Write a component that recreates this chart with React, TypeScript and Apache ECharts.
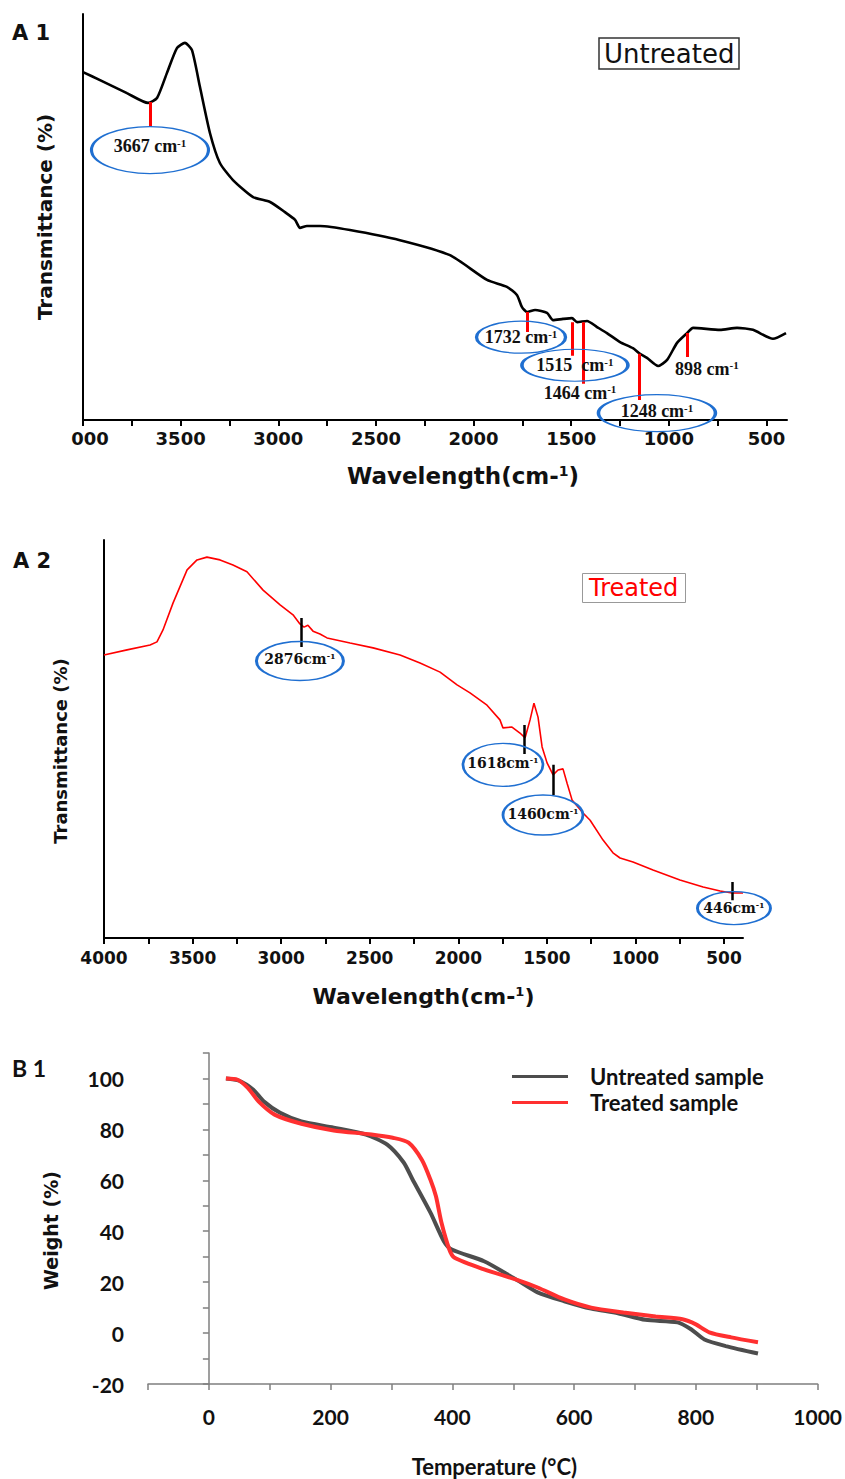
import React, { useEffect, useRef } from 'react';
import * as echarts from 'echarts';

// ---------- A1: untreated FTIR ----------
const a1Wavenumber = [4000, 3913, 3775, 3667, 3621, 3570, 3519, 3478, 3442, 3401, 3350, 3299, 3232, 3129, 3042, 2966, 2914, 2889, 2853, 2786, 2633, 2377, 2121, 1931, 1829, 1778, 1752, 1726, 1685, 1624, 1593, 1542, 1496, 1470, 1419, 1368, 1317, 1250, 1184, 1153, 1112, 1055, 1009, 958, 907, 876, 738, 651, 569, 467, 400];
const a1Transmittance = [85.7, 83.7, 80.5, 78.1, 79.3, 85.5, 91.6, 92.9, 91.1, 82.0, 70.7, 63.3, 59.1, 54.9, 53.7, 51.2, 49.3, 47.3, 47.8, 47.8, 46.8, 44.3, 40.6, 34.5, 32.8, 30.8, 27.8, 26.6, 27.1, 26.4, 24.6, 24.9, 25.1, 24.1, 24.4, 22.9, 21.4, 19.2, 17.7, 16.5, 15.3, 13.3, 14.8, 19.0, 21.4, 22.7, 22.2, 22.7, 22.2, 20.0, 21.4];
const a1MarkerX = [3657, 1726, 1496, 1440, 1153, 907];
const a1MarkerTop = [78.3, 26.6, 24.1, 24.1, 16.3, 21.4];
const a1MarkerBottom = [72.2, 21.7, 15.8, 8.9, 4.9, 15.5];
const a1BubbleText = ['3667 cm', '1732 cm', '1515  cm', '1248 cm'];
const a1BubbleX = [3657, 1757, 1481, 1061];
const a1BubbleY = [66.5, 20.4, 13.5, 1.7];
const a1NoteText = ['1464 cm', '898 cm'];
const a1NoteX = [1455, 805];
const a1NoteY = [6.7, 12.6];

// ---------- A2: treated FTIR ----------
const a2Wavenumber = [4000, 3870, 3740, 3701, 3667, 3610, 3531, 3475, 3419, 3345, 3272, 3193, 3102, 3006, 2933, 2894, 2871, 2849, 2820, 2781, 2741, 2611, 2481, 2329, 2216, 2103, 2007, 1934, 1838, 1765, 1748, 1697, 1652, 1623, 1595, 1573, 1550, 1527, 1499, 1465, 1437, 1409, 1386, 1358, 1296, 1256, 1183, 1127, 1087, 1014, 901, 749, 618, 522, 455, 393];
const a2Transmittance = [71.1, 72.4, 73.6, 74.4, 77.4, 84.2, 92.5, 95.0, 95.7, 95.0, 93.7, 92.0, 87.4, 83.7, 81.2, 78.9, 78.1, 78.6, 77.1, 76.4, 75.4, 74.1, 72.9, 71.1, 69.1, 66.8, 63.6, 61.6, 58.5, 54.8, 52.8, 53.0, 51.5, 50.3, 54.8, 59.0, 55.5, 48.0, 44.0, 41.0, 42.2, 42.5, 38.9, 34.7, 31.4, 29.6, 24.6, 21.4, 20.1, 19.1, 17.1, 14.6, 12.8, 11.8, 11.3, 11.3];
const a2MarkerX = [2888, 1629, 1465, 455];
const a2MarkerTop = [80.4, 53.5, 43.5, 14.1];
const a2MarkerBottom = [73.1, 46.2, 35.9, 9.5];
const a2BubbleText = ['2876cm', '1618cm', '1460cm', '446cm'];
const a2BubbleX = [2894, 1748, 1522, 444];
const a2BubbleY = [69.6, 43.5, 30.9, 7.5];

// ---------- B1: TGA ----------
const untreatedTemp = [28, 50, 73, 90, 117, 152, 205, 258, 293, 320, 334, 364, 386, 399, 452, 505, 540, 584, 628, 672, 717, 770, 792, 814, 849, 902];
const untreatedWeight = [100, 99.1, 95.6, 91, 86.5, 83.1, 80.7, 78, 74, 67, 60.6, 47.3, 36.1, 32.8, 28.2, 21, 16, 12.5, 9.6, 7.8, 5.2, 4.2, 1.5, -2.5, -5.1, -8];
const treatedTemp = [28, 47, 64, 81.5, 108, 152, 205, 267, 302, 328, 350, 364, 373, 382, 395, 403, 452, 505, 540, 584, 628, 681, 734, 778, 800, 822, 858, 902];
const treatedWeight = [100, 99.5, 96.3, 91, 85.8, 82.2, 79.6, 78, 76.7, 74.8, 68, 60.2, 53.7, 43.4, 32.8, 29.7, 25, 21, 17.9, 13.2, 10, 8.1, 6.5, 5.4, 3.4, 0.3, -1.7, -3.6];

// ticks / labels
const ftirLabelValues = [4000, 3500, 3000, 2500, 2000, 1500, 1000, 500];
const ftirTickValues = [4000, 3750, 3500, 3250, 3000, 2750, 2500, 2250, 2000, 1750, 1500, 1250, 1000, 750, 500];

// styles (kept separate from data)
const a1BubbleSize = [[117, 47], [89, 32], [106, 32], [117, 37]];
const a2BubbleSize = [[87, 39], [80, 43], [80, 40], [73, 33]];
const ELLIPSE = 'path://M0,50C0,22.4,22.4,0,50,0C77.6,0,100,22.4,100,50C100,77.6,77.6,100,50,100C22.4,100,0,77.6,0,50Z';
const BLUE = '#1f6fd1';

const zip = (a: number[], b: number[]) => a.map((v, i) => [v, b[i]]);

function buildOption(): any {
  const titleFont = 'DejaVu Sans';
  const a1Rich = {
    m: { fontFamily: 'Liberation Serif', fontWeight: 'bold', fontSize: 18, color: '#111' },
    s: { fontFamily: 'Liberation Serif', fontWeight: 'bold', fontSize: 11, color: '#111', verticalAlign: 'top' },
  };
  const a2Rich = {
    m: { fontFamily: 'DejaVu Serif', fontWeight: 'bold', fontSize: 14, color: '#111' },
    s: { fontFamily: 'DejaVu Serif', fontWeight: 'bold', fontSize: 8, color: '#111', verticalAlign: 'top' },
  };
  const nameRich = (size: number) => ({
    t: { fontFamily: titleFont, fontWeight: 'bold', fontSize: size, color: '#111' },
    s: { fontFamily: titleFont, fontWeight: 'bold', fontSize: Math.round(size * 0.6), color: '#111', verticalAlign: 'top' },
  });

  const ftirX = (grid: number, min: number, labelSize: number, margin: number, nameSize: number, nameGap: number, padLeft: number, clipped: boolean) => ({
    gridIndex: grid,
    type: 'value',
    inverse: true,
    min,
    max: 4000,
    axisLine: { show: true, onZero: false, lineStyle: { color: '#000', width: 2 } },
    axisTick: { show: true, length: 6, lineStyle: { color: '#000', width: 2 }, customValues: ftirTickValues },
    axisLabel: {
      customValues: ftirLabelValues,
      margin,
      fontFamily: titleFont,
      fontWeight: 'bold',
      fontSize: labelSize,
      color: '#111',
      formatter: (v: number) => (clipped && v === 4000 ? '{z|000}' : String(v)),
      rich: { z: { fontFamily: titleFont, fontWeight: 'bold', fontSize: labelSize, color: '#111', padding: [0, 0, 0, 14] } },
    },
    splitLine: { show: false },
    name: '{t|Wavelength(cm-}{s|1}{t|)}',
    nameLocation: 'middle',
    nameGap,
    nameTextStyle: { rich: nameRich(nameSize), padding: [0, 0, 0, padLeft] },
  });

  const ftirY = (grid: number, nameSize: number, nameGap: number, padRight: number) => ({
    gridIndex: grid,
    type: 'value',
    min: 0,
    max: 100,
    axisLine: { show: true, lineStyle: { color: '#000', width: 2 } },
    axisTick: { show: false },
    axisLabel: { show: false },
    splitLine: { show: false },
    name: 'Transmittance (%)',
    nameLocation: 'middle',
    nameRotate: 90,
    nameGap,
    nameTextStyle: { fontFamily: titleFont, fontWeight: 'bold', fontSize: nameSize, color: '#111', padding: [0, padRight, 0, 0] },
  });

  const markers = (x: number[], top: number[], bottom: number[], grid: number, color: string, width: number) => ({
    type: 'lines',
    coordinateSystem: 'cartesian2d',
    xAxisIndex: grid,
    yAxisIndex: grid,
    silent: true,
    z: 4,
    lineStyle: { color, width, opacity: 1 },
    data: x.map((v, i) => ({ coords: [[v, top[i]], [v, bottom[i]]] })),
  });

  const labelFor = (rich: any) => ({
    show: true,
    position: 'inside',
    color: '#111',
    textBorderWidth: 0,
    formatter: (p: any) => `{m|${p.name}}{s|-1}`,
    rich,
  });

  const bubbles = (texts: string[], x: number[], y: number[], sizes: number[][], grid: number, rich: any, offsetY: number[]) => ({
    type: 'scatter',
    xAxisIndex: grid,
    yAxisIndex: grid,
    silent: true,
    clip: false,
    z: 5,
    symbol: ELLIPSE,
    itemStyle: { color: 'rgba(0,0,0,0)', borderColor: BLUE, borderWidth: 2, opacity: 1 },
    data: texts.map((t, i) => ({
      name: t,
      value: [x[i], y[i]],
      symbolSize: sizes[i],
      label: { offset: [0, offsetY[i] || 0] },
    })),
    label: labelFor(rich),
  });

  const notes = (texts: string[], x: number[], y: number[], grid: number, rich: any) => ({
    type: 'scatter',
    xAxisIndex: grid,
    yAxisIndex: grid,
    silent: true,
    clip: false,
    z: 5,
    symbol: ELLIPSE,
    symbolSize: [60, 20],
    itemStyle: { color: 'rgba(0,0,0,0)', borderColor: 'rgba(0,0,0,0)', borderWidth: 0, opacity: 1 },
    data: texts.map((t, i) => ({ name: t, value: [x[i], y[i]] })),
    label: labelFor(rich),
  });

  const calibri = 'Lato';

  return {
    animation: false,
    backgroundColor: '#fff',
    title: [
      { text: 'A 1', left: 12, top: 22, padding: 0, textStyle: { fontFamily: titleFont, fontWeight: 'bold', fontSize: 21, color: '#111' } },
      { text: 'A 2', left: 13, top: 550, padding: 0, textStyle: { fontFamily: titleFont, fontWeight: 'bold', fontSize: 21, color: '#111' } },
      { text: 'B 1', left: 12, top: 1056, padding: 0, textStyle: { fontFamily: calibri, fontWeight: 'bold', fontSize: 23, color: '#111' } },
      {
        text: 'Untreated', left: 599, top: 38, padding: [1, 5, 1, 5], borderColor: '#333', borderWidth: 1.5,
        textStyle: { fontFamily: titleFont, fontWeight: 'normal', fontSize: 26, lineHeight: 29, color: '#111' },
      },
      {
        text: 'Treated', left: 582, top: 573, padding: [1, 7, 1, 7], borderColor: '#999', borderWidth: 1,
        textStyle: { fontFamily: titleFont, fontWeight: 'normal', fontSize: 24, lineHeight: 28, color: '#ff0000' },
      },
    ],
    legend: {
      data: ['Untreated sample', 'Treated sample'],
      orient: 'vertical',
      left: 512,
      top: 1065,
      itemWidth: 56,
      itemHeight: 3,
      itemGap: 3,
      icon: 'rect',
      padding: 0,
      selectedMode: false,
      textStyle: { fontFamily: calibri, fontWeight: 'bold', fontSize: 22, lineHeight: 23, color: '#111', padding: [0, 0, 0, 17] },
    },
    grid: [
      { left: 83, top: 14, width: 704, height: 406 },
      { left: 104, top: 540, width: 639, height: 398 },
      { left: 148, top: 1053, width: 678, height: 331 },
    ],
    xAxis: [
      ftirX(0, 395, 18, 9, 23, 44, 56, true),
      ftirX(1, 393, 17, 11, 22, 47, 0, false),
      {
        gridIndex: 2,
        type: 'value',
        min: -100,
        max: 1000,
        interval: 100,
        axisLine: { show: true, onZero: false, lineStyle: { color: '#7f7f7f', width: 1.5 } },
        axisTick: { show: true, length: 6, lineStyle: { color: '#7f7f7f', width: 1.5 } },
        axisLabel: {
          margin: 22,
          fontFamily: calibri,
          fontWeight: 'bold',
          fontSize: 21,
          color: '#111',
          formatter: (v: number) => (v % 200 === 0 ? String(v) : ''),
        },
        splitLine: { show: false },
        name: 'Temperature (°C)',
        nameLocation: 'middle',
        nameGap: 71,
        nameTextStyle: { fontFamily: calibri, fontWeight: 'bold', fontSize: 22, color: '#111', padding: [0, 0, 0, 23] },
      },
    ],
    yAxis: [
      ftirY(0, 20, 28, 0),
      ftirY(1, 18, 35, 24),
      {
        gridIndex: 2,
        type: 'value',
        min: -20,
        max: 110,
        interval: 10,
        axisLine: { show: true, lineStyle: { color: '#7f7f7f', width: 1.5 } },
        axisTick: { show: true, length: 6, lineStyle: { color: '#7f7f7f', width: 1.5 } },
        axisLabel: {
          margin: 24,
          fontFamily: calibri,
          fontWeight: 'bold',
          fontSize: 21,
          color: '#111',
          formatter: (v: number) => (v % 20 === 0 && v <= 100 ? String(v) : ''),
        },
        splitLine: { show: false },
        name: 'Weight (%)',
        nameLocation: 'middle',
        nameRotate: 90,
        nameGap: 88,
        nameTextStyle: { fontFamily: titleFont, fontWeight: 'bold', fontSize: 19, color: '#111', padding: [0, 24, 0, 0] },
      },
    ],
    series: [
      {
        name: 'A1',
        type: 'line',
        xAxisIndex: 0,
        yAxisIndex: 0,
        showSymbol: false,
        symbol: 'none',
        silent: true,
        smooth: 0.2,
        z: 3,
        lineStyle: { color: '#000', width: 2.6 },
        data: zip(a1Wavenumber, a1Transmittance),
      },
      markers(a1MarkerX, a1MarkerTop, a1MarkerBottom, 0, '#ff0000', 3),
      bubbles(a1BubbleText, a1BubbleX, a1BubbleY, a1BubbleSize, 0, a1Rich, [-4, 0, 0, -2]),
      notes(a1NoteText, a1NoteX, a1NoteY, 0, a1Rich),
      {
        name: 'A2',
        type: 'line',
        xAxisIndex: 1,
        yAxisIndex: 1,
        showSymbol: false,
        symbol: 'none',
        silent: true,
        z: 3,
        lineStyle: { color: '#ff0000', width: 1.6 },
        data: zip(a2Wavenumber, a2Transmittance),
      },
      markers(a2MarkerX, a2MarkerTop, a2MarkerBottom, 1, '#000', 2.5),
      bubbles(a2BubbleText, a2BubbleX, a2BubbleY, a2BubbleSize, 1, a2Rich, [-2, -2, -1, 0]),
      {
        name: 'Untreated sample',
        type: 'line',
        xAxisIndex: 2,
        yAxisIndex: 2,
        showSymbol: false,
        symbol: 'circle',
        smooth: 0.25,
        color: '#4d4d4d',
        lineStyle: { color: '#4d4d4d', width: 4 },
        data: zip(untreatedTemp, untreatedWeight),
      },
      {
        name: 'Treated sample',
        type: 'line',
        xAxisIndex: 2,
        yAxisIndex: 2,
        showSymbol: false,
        symbol: 'circle',
        smooth: 0.25,
        color: '#ff3030',
        lineStyle: { color: '#ff3030', width: 4 },
        data: zip(treatedTemp, treatedWeight),
      },
    ],
  };
}

export default function App() {
  const ref = useRef<HTMLDivElement>(null);
  useEffect(() => {
    if (!ref.current) return;
    const chart = echarts.init(ref.current, null, { renderer: 'svg' });
    chart.setOption(buildOption());
    return () => chart.dispose();
  }, []);
  return (
    <div
      ref={ref}
      style={{ position: 'absolute', left: 0, top: 0, width: 845, height: 1479, background: '#fff' }}
    />
  );
}
